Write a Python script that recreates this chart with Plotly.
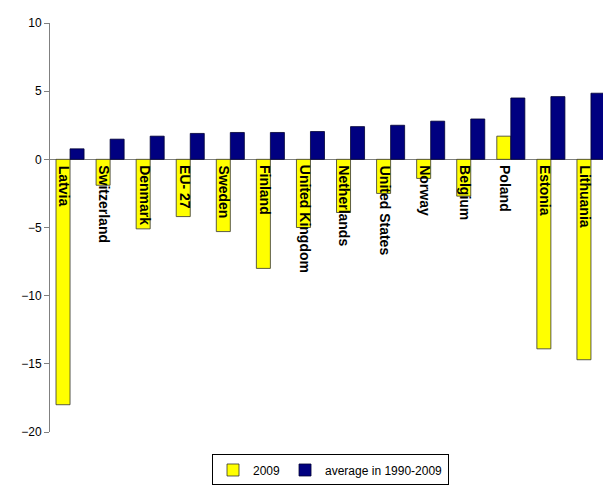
import plotly.graph_objects as go

countries = ["Latvia","Switzerland","Denmark","EU- 27","Sweden","Finland","United Kingdom",
             "Netherlands","United States","Norway","Belgium","Poland","Estonia","Lithuania"]
v2009 = [-18.0,-1.9,-5.1,-4.2,-5.3,-8.0,-5.0,-3.9,-2.5,-1.4,-2.7,1.7,-13.9,-14.7]
vavg = [0.77,1.48,1.7,1.9,1.97,1.97,2.04,2.4,2.5,2.8,2.96,4.5,4.6,4.85]

fig = go.Figure()
fig.add_bar(x=countries, y=v2009, name="2009", marker=dict(color="#FFFF00", line=dict(color="#333333", width=0.8)))
fig.add_bar(x=countries, y=vavg, name="average in 1990-2009", marker=dict(color="#000080", line=dict(color="#000033", width=0.8)))

for c in countries:
    fig.add_annotation(x=c, y=0, text="<b>%s</b>" % c, textangle=90, showarrow=False,
                       xanchor="center", yanchor="top", yshift=-4, xshift=-6,
                       font=dict(family="Liberation Sans", size=14, color="black"))

fig.update_layout(
    width=611, height=485, barmode="group", bargap=0.3, bargroupgap=0,
    plot_bgcolor="white", paper_bgcolor="white",
    margin=dict(l=42, r=8, t=8, b=42),
    font=dict(family="Liberation Sans", size=12, color="black"),
    xaxis=dict(showticklabels=False, showline=False, showgrid=False, ticks=""),
    yaxis=dict(range=[-20, 10], dtick=5, showgrid=False, showline=True, linecolor="#808080",
               ticks="outside", tickcolor="#808080", ticklen=5, zeroline=True,
               zerolinecolor="#808080", zerolinewidth=1, tickfont=dict(size=12)),
    legend=dict(orientation="h", x=0.5, xanchor="center", y=-0.055, yanchor="top",
                bordercolor="black", borderwidth=1, font=dict(size=12),
                itemwidth=30, tracegroupgap=0),
)
fig.write_html("out.html")
